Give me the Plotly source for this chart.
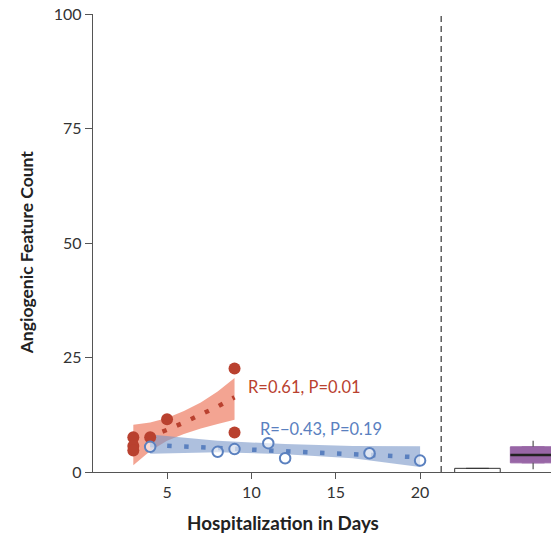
import plotly.graph_objects as go

# Red group (filled)
red_x = [3, 3, 3, 4, 5, 9, 9]
red_y = [7.6, 5.7, 4.7, 7.6, 11.5, 22.6, 8.6]
red_fit_x = [3, 4, 5, 6, 7, 8, 9]
red_fit_y = [6.5, 7.8, 9.2, 10.8, 12.5, 14.3, 16.3]
red_hi = [10.3, 10.8, 11.8, 13.3, 15.2, 17.6, 20.5]
red_lo = [1.5, 4.6, 6.8, 8.3, 9.5, 10.5, 11.4]

# Blue group (open)
blue_x = [4, 8, 9, 11, 12, 17, 20]
blue_y = [5.5, 4.4, 5.0, 6.3, 3.0, 4.1, 2.5]
blue_fit_x = [4, 8, 12, 16, 20]
blue_fit_y = [5.9, 5.2, 4.55, 3.9, 3.2]
blue_hi = [8.2, 6.8, 6.1, 5.7, 5.6]
blue_lo = [4.0, 4.3, 3.9, 3.0, 1.1]

# Box summaries
box_white = dict(x=23.4, q1=-0.4, median=-0.4, q3=0.8, lo=-0.4, hi=0.8)
box_purple = dict(x=26.7, q1=2.0, median=3.7, q3=5.5, lo=0.6, hi=6.8)

red_c = "#b9412f"
blue_c = "#5a80bf"
font = "Lato"

fig = go.Figure()

# bands
fig.add_trace(go.Scatter(x=red_fit_x + red_fit_x[::-1], y=red_hi + red_lo[::-1],
                         fill="toself", fillcolor="rgba(238,125,100,0.7)",
                         line=dict(width=0), mode="lines", hoverinfo="skip"))
fig.add_trace(go.Scatter(x=blue_fit_x + blue_fit_x[::-1], y=blue_hi + blue_lo[::-1],
                         fill="toself", fillcolor="rgba(120,150,200,0.6)",
                         line=dict(width=0), mode="lines", hoverinfo="skip"))
# fit lines
fig.add_trace(go.Scatter(x=red_fit_x, y=red_fit_y, mode="lines",
                         line=dict(color=red_c, width=4.5, dash="4.5px,11px")))
fig.add_trace(go.Scatter(x=blue_fit_x, y=blue_fit_y, mode="lines",
                         line=dict(color=blue_c, width=4.5, dash="4.5px,12.5px")))
# points
fig.add_trace(go.Scatter(x=red_x, y=red_y, mode="markers",
                         marker=dict(color=red_c, size=12, line=dict(width=0))))
fig.add_trace(go.Scatter(x=blue_x, y=blue_y, mode="markers",
                         marker=dict(color="rgba(255,255,255,0.6)", size=10.5,
                                     line=dict(color=blue_c, width=2))))

bw = 2.7
# white box
fig.add_trace(go.Box(x=[box_white["x"]], q1=[box_white["q1"]], median=[box_white["median"]],
                     q3=[box_white["q3"]], lowerfence=[box_white["lo"]], upperfence=[box_white["hi"]],
                     width=bw, fillcolor="white", line=dict(color="#333333", width=1)))
# purple box
fig.add_trace(go.Box(x=[box_purple["x"]], q1=[box_purple["q1"]], median=[box_purple["median"]],
                     q3=[box_purple["q3"]], lowerfence=[box_purple["q1"]], upperfence=[box_purple["q3"]],
                     width=bw, fillcolor="#9866a6", line=dict(color="#9866a6", width=1)))
px = box_purple["x"]
fig.add_trace(go.Scatter(x=[px, px, None, px, px],
                         y=[box_purple["q3"], box_purple["hi"], None, box_purple["lo"], box_purple["q1"]],
                         mode="lines", line=dict(color="#555555", width=1.2)))
fig.add_trace(go.Scatter(x=[px - bw / 2, px + bw / 2], y=[box_purple["median"]] * 2,
                         mode="lines", line=dict(color="#222222", width=2.5)))

fig.add_shape(type="line", x0=21.25, x1=21.25, y0=0, y1=100, xref="x", yref="y",
              line=dict(color="#444444", width=1.3, dash="6px,4px"))

fig.add_annotation(x=9.7, y=18.6, text="R=0.61, P=0.01", showarrow=False, xanchor="left",
                   font=dict(color=red_c, size=16.5, family=font))
fig.add_annotation(x=10.4, y=9.4, text="R=\u22120.43, P=0.19", showarrow=False, xanchor="left",
                   font=dict(color=blue_c, size=16.5, family=font))

# axis titles
fig.add_annotation(xref="paper", yref="paper", x=-0.146, y=0.48, textangle=-90,
                   xanchor="center", yanchor="middle",
                   text="<b>Angiogenic Feature Count</b>", showarrow=False,
                   font=dict(size=17.5, family=font, color="#222222"))
fig.add_annotation(xref="paper", yref="paper", x=0.415, y=-0.111, xanchor="center", yanchor="middle",
                   text="<b>Hospitalization in Days</b>", showarrow=False,
                   font=dict(size=18.8, family=font, color="#222222"))

fig.update_layout(
    width=551, height=538, showlegend=False,
    margin=dict(l=93, r=0, t=14, b=66),
    plot_bgcolor="white", paper_bgcolor="white",
    font=dict(family=font, color="#222222", size=13),
)
fig.update_xaxes(range=[0.61, 27.76], tickvals=[5, 10, 15, 20], ticks="outside", ticklen=6,
                 tickcolor="#555555", showline=True, linecolor="#555555", linewidth=1.3,
                 showgrid=False, zeroline=False, tickfont=dict(size=16, color="#333333"))
fig.update_yaxes(range=[0, 100], tickvals=[0, 25, 50, 75, 100], ticks="outside", ticklen=7,
                 tickcolor="#555555", showline=True, linecolor="#555555", linewidth=1.3,
                 showgrid=False, zeroline=False, tickfont=dict(size=16, color="#333333"))

fig.write_html("out.html", config={"displayModeBar": False},
               post_script="document.body.style.margin='0';")
